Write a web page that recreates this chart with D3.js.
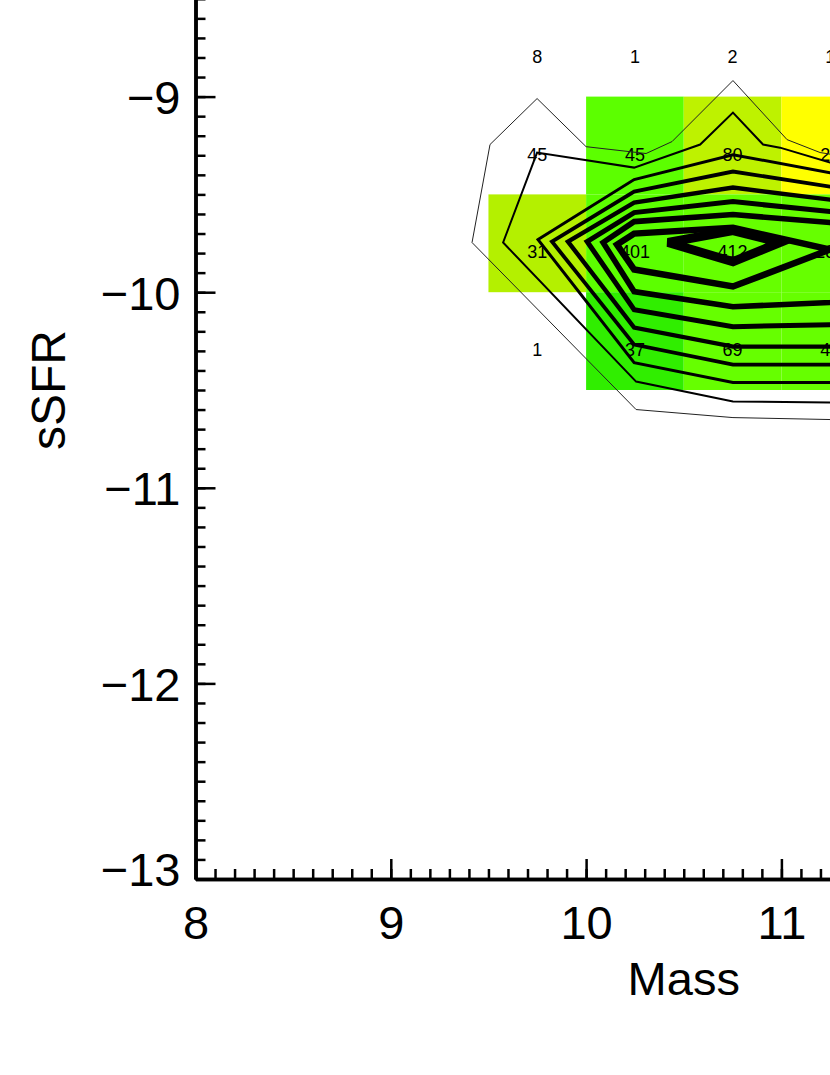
<!DOCTYPE html>
<html>
<head>
<meta charset="utf-8">
<script src="https://cdn.jsdelivr.net/npm/d3@7/dist/d3.min.js"></script>
<style>
  html, body { margin: 0; padding: 0; background: #fff; }
  svg { display: block; }
  text { font-family: "Liberation Sans", Arial, Helvetica, sans-serif; }
</style>
</head>
<body>
<svg id="chart" width="830" height="1075"></svg>
<script>
// ---- data ----
const xDomain = [8, 13];
const yDomain = [-13, -8];
const xMajorTicks = [8, 9, 10, 11, 12, 13];
const yMajorTicks = [-13, -12, -11, -10, -9, -8];
const binSize = 0.5;

// bin centres
const colCenters = [9.75, 10.25, 10.75, 11.25];
const rowCenters = [-8.75, -9.25, -9.75, -10.25];

// counts per column (top row to bottom row)
const counts = [
  [8, 45, 31, 1],
  [1, 45, 401, 37],
  [2, 80, 412, 69],
  [1, 25, 283, 48]
];

// cell colours per column (null = not coloured)
const cellColors = [
  [null, null, "#b4f000", null],
  [null, "#5cff00", "#5cff00", "#30ee00"],
  [null, "#bef200", "#66ff00", "#66ff00"],
  [null, "#ffff00", "#66ff00", "#66ff00"]
];

// contour lines, [mass, sSFR], outermost first
const contour1 = [[9.416,-9.746],[9.508,-9.245],[9.749,-9.010],[10.0,-9.256],[10.307,-9.291],[10.44,-9.23],[10.752,-8.918],[11.029,-9.22],[11.198,-9.286],[11.6,-9.35],[11.6,-10.66],[11.249,-10.651],[10.752,-10.641],[10.256,-10.60]];
const contour2 = [[9.575,-9.746],[9.749,-9.286],[10.246,-9.363],[10.584,-9.245],[10.752,-9.082],[10.906,-9.245],[10.993,-9.261],[11.249,-9.337],[11.6,-9.38],[11.6,-10.57],[11.249,-10.564],[10.752,-10.559],[10.256,-10.457]];
const contour3 = [[9.754,-9.731],[10.246,-9.424],[10.752,-9.297],[11.249,-9.389],[11.6,-9.42],[11.6,-10.47],[11.249,-10.462],[10.752,-10.462],[10.246,-10.36]];
const contour4 = [[9.825,-9.741],[10.246,-9.486],[10.752,-9.383],[11.249,-9.46],[11.6,-9.5],[11.6,-10.37],[11.249,-10.37],[10.752,-10.37],[10.246,-10.268]];
const contour5 = [[9.907,-9.741],[10.246,-9.542],[10.752,-9.465],[11.249,-9.527],[11.6,-9.56],[11.6,-10.28],[11.249,-10.278],[10.752,-10.278],[10.246,-10.181]];
const contour6 = [[10.005,-9.741],[10.246,-9.593],[10.752,-9.537],[11.249,-9.588],[11.6,-9.62],[11.6,-10.16],[11.249,-10.166],[10.752,-10.176],[10.246,-10.089]];
const contour7 = [[10.087,-9.746],[10.246,-9.639],[10.752,-9.603],[11.249,-9.644],[11.6,-9.7],[11.6,-10.03],[11.249,-10.053],[10.752,-10.074],[10.246,-9.997]];
const contour8 = [[10.158,-9.757],[10.246,-9.70],[10.752,-9.670],[11.249,-9.782],[10.752,-9.971],[10.246,-9.884]];
const contour9 = [[10.419,-9.746],[10.752,-9.685],[10.993,-9.746],[10.752,-9.844]];
const contours = [contour1, contour2, contour3, contour4, contour5, contour6, contour7, contour8, contour9];
const contourWidths = [1, 2, 3, 3.8, 4.4, 5, 5.6, 6.4, 9];

// ---- layout ----
const svg = d3.select("#chart");
const x = d3.scaleLinear().domain(xDomain).range([195.5, 195.5 + 5 * 195.3]);
const y = d3.scaleLinear().domain(yDomain).range([879, 879 - 5 * 195.6]);

svg.append("rect").attr("width", 830).attr("height", 1075).attr("fill", "#fff");

// cells
const cells = [];
colCenters.forEach((cx, i) => rowCenters.forEach((cy, j) => {
  if (cellColors[i][j]) cells.push({cx, cy, c: cellColors[i][j]});
}));
svg.append("g").selectAll("rect").data(cells).join("rect")
  .attr("x", d => x(d.cx - binSize / 2))
  .attr("y", d => y(d.cy + binSize / 2))
  .attr("width", d => x(d.cx + binSize / 2) - x(d.cx - binSize / 2))
  .attr("height", d => y(d.cy - binSize / 2) - y(d.cy + binSize / 2))
  .attr("fill", d => d.c);

// count labels
const labels = [];
colCenters.forEach((cx, i) => rowCenters.forEach((cy, j) => labels.push({cx, cy, n: counts[i][j]})));
svg.append("g").selectAll("text").data(labels).join("text")
  .attr("x", d => x(d.cx))
  .attr("y", d => y(d.cy) + 15)
  .attr("text-anchor", "middle")
  .attr("font-size", 18)
  .attr("fill", "#000")
  .text(d => d.n);

// contours
const line = d3.line().x(d => x(d[0])).y(d => y(d[1])).curve(d3.curveLinearClosed);
svg.append("g").selectAll("path").data(contours).join("path")
  .attr("d", line)
  .attr("fill", "none")
  .attr("stroke", (d, i) => i === 0 ? "#222" : "#000")
  .attr("stroke-width", (d, i) => contourWidths[i])
  .attr("stroke-linejoin", "miter");

// axes
const fontSize = 47;
function styleAxis(g) {
  g.select(".domain").attr("stroke", "#000").attr("stroke-width", 3.5);
  g.selectAll(".tick line").attr("stroke", "#000").attr("stroke-width", 2.5);
  g.selectAll(".tick text").attr("fill", "#000").attr("font-size", fontSize)
    .attr("font-family", '"Liberation Sans", Arial, Helvetica, sans-serif');
}

const xMinor = d3.range(80, 131).map(v => v / 10);
const yMinor = d3.range(-130, -79).map(v => v / 10);

svg.append("g").attr("transform", `translate(0,${y(-13)})`)
  .call(d3.axisBottom(x).tickValues(xMinor).tickSizeInner(-10).tickSizeOuter(0).tickFormat(""))
  .call(styleAxis);
svg.append("g").attr("transform", `translate(${x(8)},0)`)
  .call(d3.axisLeft(y).tickValues(yMinor).tickSizeInner(-10).tickSizeOuter(0).tickFormat(""))
  .call(styleAxis);

svg.append("g").attr("transform", `translate(0,${y(-13)})`)
  .call(d3.axisBottom(x).tickValues(xMajorTicks).tickSizeInner(-20).tickSizeOuter(0).tickPadding(27).tickFormat(d3.format("d")))
  .call(styleAxis);
svg.append("g").attr("transform", `translate(${x(8)},0)`)
  .call(d3.axisLeft(y).tickValues(yMajorTicks).tickSizeInner(-20).tickSizeOuter(0).tickPadding(15).tickFormat(d3.format("d")))
  .call(styleAxis)
  .call(g => g.selectAll(".tick text").attr("dy", d => d === -13 ? "0.14em" : "0.36em"));

// axis titles
svg.append("text").attr("x", x(10.5)).attr("y", 995).attr("text-anchor", "middle")
  .attr("font-size", 47).attr("fill", "#000").text("Mass");
svg.append("text").attr("transform", `translate(65,${y(-10.5)}) rotate(-90)`).attr("text-anchor", "middle")
  .attr("font-size", 48).attr("fill", "#000").text("sSFR");
</script>
</body>
</html>
